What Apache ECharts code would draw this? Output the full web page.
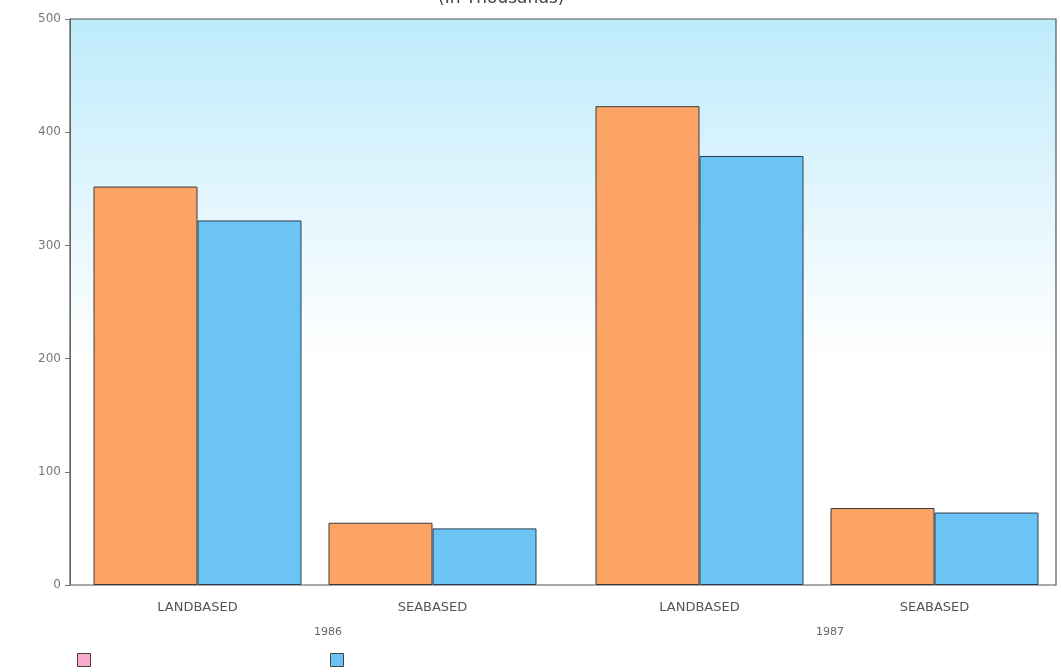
<!DOCTYPE html>
<html>
<head>
<meta charset="utf-8">
<script src="https://cdn.jsdelivr.net/npm/echarts@6/dist/echarts.min.js"></script>
<style>
  html, body { margin: 0; padding: 0; background: #ffffff; }
  #chart { width: 1061px; height: 672px; }
</style>
</head>
<body>
<div id="chart"></div>
<script>
// Overseas workers deployed, in thousands
const categories = ['LANDBASED', 'SEABASED'];
const years = ['1986', '1987'];
const seriesA1986 = [352, 55];   // orange bars
const seriesB1986 = [322, 50];   // blue bars
const seriesA1987 = [423, 68];
const seriesB1987 = [379, 64];
const yTicks = [0, 100, 200, 300, 400, 500];

const chart = echarts.init(document.getElementById('chart'));
const labelFont = '"DejaVu Sans", "Liberation Sans", sans-serif';
const TOP = 19, BOTTOM = 87;

// one outer frame carrying the value axis, one inner grid per year
const grids = [
  {
    left: 70, right: 5, top: TOP, bottom: BOTTOM, outerBoundsMode: 'none',
    show: true, borderColor: '#555', borderWidth: 1.2,
    backgroundColor: new echarts.graphic.LinearGradient(0, 0, 0, 1, [
      { offset: 0, color: '#bdebfb' },
      { offset: 0.33, color: '#e4f6fd' },
      { offset: 0.6, color: '#ffffff' },
      { offset: 1, color: '#ffffff' }
    ])
  },
  { left: 80, width: 470, top: TOP, bottom: BOTTOM, outerBoundsMode: 'none' },
  { left: 582, width: 470, top: TOP, bottom: BOTTOM, outerBoundsMode: 'none' }
];

const catAxis = (gridIndex) => ({
  type: 'category', gridIndex, data: categories, position: 'bottom',
  axisLine: { show: false }, axisTick: { show: false },
  axisLabel: { margin: 16, fontFamily: labelFont, fontSize: 13, color: '#555' }
});
const yearAxis = (gridIndex, year) => ({
  type: 'category', gridIndex, data: [year], position: 'bottom', offset: 42,
  axisLine: { show: false }, axisTick: { show: false },
  axisLabel: { margin: 0, padding: [0, 0, 0, 26], fontFamily: labelFont, fontSize: 11, color: '#666' }
});
const hiddenY = (gridIndex) => ({
  type: 'value', gridIndex, min: 0, max: 500, interval: 100, show: false
});
const bar = (name, data, xi, yi, color, border) => ({
  name, type: 'bar', xAxisIndex: xi, yAxisIndex: yi, data,
  barGap: '0%', barCategoryGap: '11.5%',
  itemStyle: { color, borderColor: border, borderWidth: 1 }
});

chart.setOption({
  animation: false,
  backgroundColor: '#ffffff',
  title: {
    text: '(In Thousands)',
    left: 433,
    top: -15,
    textStyle: { fontFamily: labelFont, fontSize: 17, fontWeight: 'normal', color: '#444' }
  },
  legend: {
    left: 77,
    top: 653,
    padding: 0,
    itemWidth: 13,
    itemHeight: 13,
    itemGap: 239,
    icon: 'rect',
    formatter: () => '',
    itemStyle: { borderColor: '#444', borderWidth: 1 },
    data: [
      { name: 'A', itemStyle: { color: '#f7a9cf' } },
      { name: 'B', itemStyle: { color: '#6cc4f5' } }
    ]
  },
  grid: grids,
  xAxis: [
    { type: 'category', gridIndex: 0, data: [''], show: false },
    catAxis(1), yearAxis(1, years[0]),
    catAxis(2), yearAxis(2, years[1])
  ],
  yAxis: [
    {
      type: 'value', gridIndex: 0, min: 0, max: 500, interval: 100,
      splitLine: { show: false },
      axisLine: { show: true, lineStyle: { color: '#666' } },
      axisTick: { show: true, length: 5, lineStyle: { color: '#777' } },
      axisLabel: {
        margin: 9, fontFamily: labelFont, fontSize: 12, color: '#777',
        formatter: v => (yTicks.includes(v) ? String(v) : '')
      }
    },
    hiddenY(1),
    hiddenY(2)
  ],
  series: [
    bar('A', seriesA1986, 1, 1, '#fca466', '#3a3a3a'),
    bar('B', seriesB1986, 1, 1, '#6cc4f5', '#2c3e50'),
    bar('A', seriesA1987, 3, 2, '#fca466', '#3a3a3a'),
    bar('B', seriesB1987, 3, 2, '#6cc4f5', '#2c3e50')
  ]
});
</script>
</body>
</html>
